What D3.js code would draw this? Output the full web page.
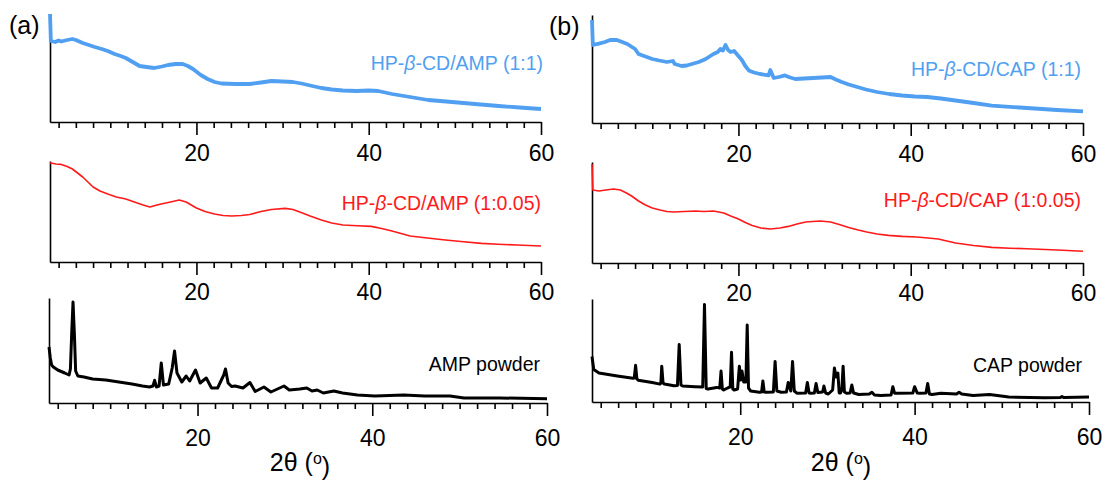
<!DOCTYPE html>
<html>
<head>
<meta charset="utf-8">
<script src="https://cdn.jsdelivr.net/npm/d3@7"></script>
<style>
  html, body { margin: 0; padding: 0; background: #fff; }
  #chart { width: 1105px; height: 483px; }
  text { font-family: 'Liberation Sans', Arial, sans-serif; }
  .axis path, .axis line { stroke: #000; stroke-width: 1.6; }
</style>
</head>
<body>
<div id="chart"></div>
<script>
'use strict';

// ---- data: [2theta (deg), intensity (a.u.)] ----
const ampComplex11 = [
  [3.0,108],[3.05,95],[3.1,81],[3.6,80],[4.0,81.5],[4.3,80.5],[5.0,82],[5.6,83],[6.0,82],
  [6.8,79],[7.5,77],[8.2,75],[9.0,73],[9.7,71],[10.5,68],[11.2,66],[11.8,64],[12.6,60],
  [13.4,56],[14.2,55],[15.1,54],[16.0,55.5],[16.7,57],[17.6,58],[18.4,58],[19.0,56],
  [19.6,53],[20.5,47],[21.3,43],[22.1,40],[22.9,38.5],[24.5,38],[26.2,38],[27.5,39.5],
  [28.7,41],[30.0,40.5],[31.2,40],[32.2,38.5],[33.2,36.5],[34.5,34],[35.7,32.5],[37.0,31.5],
  [38.6,31],[40.0,31.5],[41.1,31],[42.7,28],[44.8,25],[46.9,22],[49,20.5],[51,19],[53,17.5],
  [55.1,16],[57.5,14.5],[60,13]
];
const ampComplex005 = [
  [3.0,99],[3.1,99],[3.7,98],[4.3,97.6],[5.0,95.5],[5.6,93],[6.2,89],[6.8,85],[7.4,80],
  [8.0,75],[8.8,71],[9.7,68],[10.7,65],[11.8,63],[12.8,60],[13.8,57],[14.6,55],[15.2,56.5],
  [15.9,58],[17.0,60],[18.0,62],[18.8,60],[19.4,57],[20.0,54],[21.0,50.5],[22.1,48],
  [23.1,46.5],[24.1,46],[25.2,46.5],[26.2,47.5],[27.5,50.5],[28.7,52.5],[30.3,53.6],
  [31.2,52.5],[32.0,50],[33.2,46],[34.5,42],[35.7,39],[37.0,37],[38.7,36.2],[40.3,35.6],
  [41.5,33.5],[42.7,31],[44.8,26],[46.8,24],[48.9,22],[51.0,20.3],[53.1,18.6],[55.0,17.7],
  [57.2,17],[60,16]
];
const ampPowder = [
  [3.0,56],[3.15,45],[3.3,38],[3.5,36],[4.0,33],[4.8,30],[5.3,28],[5.45,34],[5.6,70],
  [5.75,101],[5.9,70],[6.05,32],[6.3,27],[7,26],[8,24],[9.5,23],[11,21],[12.5,19],
  [13.7,17],[14.5,16],[14.9,17],[15.09,22.7],[15.3,16],[15.6,17],[15.85,40],[16.1,18],
  [16.7,19],[17.1,35],[17.37,52],[17.65,30],[18.2,21],[18.7,27],[19.1,22],[19.77,33],
  [20.3,20],[21.0,25],[21.6,15],[22.3,15],[23.0,28],[23.2,34],[23.5,20],[23.9,16.5],
  [24.3,17],[25.2,15],[26.0,20.5],[26.6,11.5],[27.6,16],[28.4,11],[29.9,17],[30.5,13],
  [31.7,14],[32.5,15],[33.1,12],[33.7,13],[34.4,10],[35.6,12],[36.6,10],[38.3,8],
  [40.3,7],[43.6,8],[46.0,7],[48.9,7],[50.5,5],[54.6,5],[60,4.3]
];
const capComplex11 = [
  [3.0,103],[3.05,90],[3.1,78],[3.8,79.4],[4.5,81],[5.1,83],[5.9,83],[6.5,81],[7.1,79],
  [8.0,74],[8.4,69],[9.2,66.5],[10.0,64],[10.8,62.5],[11.7,61],[12.4,62],[12.6,59],
  [13.4,57],[14.0,57.5],[14.6,59],[15.4,61],[16.2,64],[17.1,69],[17.6,71],[17.9,74],
  [18.2,72.5],[18.5,78],[18.8,73],[19.1,71],[19.5,72],[19.8,69],[20.4,63],[20.8,57],
  [21.2,52.6],[21.8,50.5],[22.5,49],[23.5,47.6],[23.7,53],[24.1,45],[24.7,46],[25.4,47.6],
  [26.0,45.5],[26.6,44],[27.6,44.5],[28.7,45],[29.7,45.5],[30.7,46],[31.3,43.5],[32.0,41],
  [32.8,38.5],[33.6,36.5],[34.8,33.5],[36.1,31],[37.5,29],[39.0,27.5],[40.5,26.5],
  [41.9,26],[43.5,24.5],[45.2,22.5],[47.3,20],[49.4,17.4],[51.5,16.2],[53.5,15],[57,13],
  [60,11.7]
];
const capComplex005 = [
  [3.0,99],[3.05,85],[3.1,73],[3.8,72],[4.6,73],[5.5,74],[6.3,73],[7.0,70],[7.6,67],
  [8.4,62],[9.2,58],[10.0,55],[10.9,53],[11.7,51.5],[12.5,51],[13.7,51.5],[15.0,52],
  [16.0,51.5],[17.1,52],[18.3,50],[19.1,47],[20.0,44],[20.8,40.5],[21.6,37.6],[22.6,35],
  [23.7,34],[24.8,35],[25.8,36.6],[26.8,39],[27.8,41],[28.6,41.5],[29.5,42],[30.7,41],
  [31.7,38.5],[32.8,35.6],[33.9,33],[34.9,31],[36.1,29],[37.4,27.6],[39.0,26.6],
  [40.7,26],[42.0,25],[43.2,24],[44.2,22],[45.2,20],[47.3,17.5],[49.4,15.6],[51.5,14.8],
  [53.5,14.3],[57,13],[60,11.7]
];
const capPowder = [
  [3.0,45.5],[3.2,32.5],[3.8,29],[5.9,26],[7.7,23.7],[7.85,24],[8.0,36.7],[8.15,23],
  [8.3,21.8],[9.9,19.5],[10.8,17.9],[10.9,19],[11.0,35.8],[11.15,19],[11.3,18],
  [12.4,16.3],[12.8,16.5],[13.0,57.5],[13.2,17],[13.4,16],[14.8,15.3],[15.7,15],
  [15.9,97.5],[16.1,13.5],[16.3,13],[17.3,14.6],[17.65,14],[17.8,31],[17.95,13],
  [18.1,12],[18.7,14.6],[18.85,15],[19.0,49.7],[19.15,13],[19.3,12],[19.7,13],
  [19.9,35.8],[20.05,22],[20.2,31],[20.4,20],[20.65,20],[20.8,77],[20.95,14],[21.2,11],
  [22.2,9.75],[22.45,10],[22.6,21],[22.75,10],[23.0,9.75],[23.8,10],[24.0,40.6],[24.2,11],
  [24.7,9.75],[25.3,10],[25.5,19.5],[25.8,11],[26.0,40.6],[26.2,11],[26.5,8.8],[27.5,9],
  [27.7,19.5],[27.9,9],[28.1,8.8],[28.5,9],[28.7,18.5],[28.9,9.5],[29.2,9.75],[29.45,10],
  [29.6,16],[29.8,9],[30.1,8],[30.6,12],[30.8,34],[31.0,25],[31.2,29],[31.35,9],[31.5,9],
  [31.65,12],[31.8,35.8],[31.95,10],[32.2,8.8],[32.6,9],[32.8,17],[33.0,9],[33.6,7.5],
  [34.8,8],[35.1,9.75],[35.4,7],[36.1,6.5],[37.3,7],[37.5,15.3],[37.7,8.8],[38.1,8.8],
  [39.8,9],[40.0,15.3],[40.3,9],[40.6,8.8],[41.3,9],[41.5,18.5],[41.7,8],[42.0,7.5],
  [43.0,8.8],[44.8,8],[45.1,9.75],[45.4,8],[46.7,6.5],[48.6,7.5],[50.8,4.9],[54.9,4.2],
  [56.7,4.5],[56.9,5.5],[57.1,4.5],[60,4.9]
];

const X_DOMAIN = [3, 60];
const minorTicks = d3.range(4, 60, 2);
const majorTicks = [20, 40, 60];

const BLUE = '#519ff0';
const RED = '#ff1a1a';
const BLACK = '#000';

const panels = [
  { data: ampComplex11,  color: BLUE,  lw: 3.8, name: ['HP-', 'β', '-CD/AMP (1:1)'],
    x0: 50,  x1: 541,  top: 14,  base: 122, lx: 543,  ly: 63,  labY: 31 },
  { data: ampComplex005, color: RED,   lw: 1.6, name: ['HP-', 'β', '-CD/AMP (1:0.05)'],
    x0: 50,  x1: 541,  top: 161, base: 262, lx: 541,  ly: 203, labY: 30 },
  { data: ampPowder,     color: BLACK, lw: 3,   name: ['AMP powder'],
    x0: 49,  x1: 547,  top: 298, base: 403, lx: 540,  ly: 364, labY: 35 },
  { data: capComplex11,  color: BLUE,  lw: 3.8, name: ['HP-', 'β', '-CD/CAP (1:1)'],
    x0: 592, x1: 1083, top: 15,  base: 123, lx: 1081, ly: 69,  labY: 31 },
  { data: capComplex005, color: RED,   lw: 1.6, name: ['HP-', 'β', '-CD/CAP (1:0.05)'],
    x0: 592, x1: 1083, top: 162, base: 263, lx: 1081, ly: 200, labY: 30 },
  { data: capPowder,     color: BLACK, lw: 3,   name: ['CAP powder'],
    x0: 592, x1: 1089, top: 299, base: 402, lx: 1082, ly: 365, labY: 35 },
];

const svg = d3.select('#chart').append('svg')
  .attr('width', 1105)
  .attr('height', 483);

panels.forEach(p => {
  const x = d3.scaleLinear().domain(X_DOMAIN).range([p.x0, p.x1]);
  const y = d3.scaleLinear().domain([0, p.base - p.top]).range([p.base, p.top]);

  // x axis with minor/major ticks
  const ax = svg.append('g')
    .attr('class', 'axis')
    .attr('transform', `translate(0,${p.base})`)
    .call(d3.axisBottom(x)
      .tickValues(minorTicks.concat([60]))
      .tickSize(6)
      .tickSizeOuter(0)
      .tickFormat(d => majorTicks.includes(d) ? d : ''));
  ax.selectAll('.tick')
    .filter(d => majorTicks.includes(d))
    .select('line').attr('y2', 13);
  ax.selectAll('.tick text')
    .attr('y', p.labY)
    .attr('dy', '0.36em')
    .attr('fill', '#000')
    .style('font-size', '23px')
    .style('font-family', "'Liberation Sans', Arial, sans-serif");

  // y axis: plain line
  svg.append('g')
    .attr('class', 'axis')
    .attr('transform', `translate(${p.x0},0)`)
    .call(d3.axisLeft(y).tickValues([]).tickSizeOuter(0));

  const line = d3.line()
    .x(d => x(d[0]))
    .y(d => y(d[1]));

  svg.append('path')
    .datum(p.data)
    .attr('fill', 'none')
    .attr('stroke', p.color)
    .attr('stroke-width', p.lw)
    .attr('stroke-linejoin', 'round')
    .attr('d', line);

  const t = svg.append('text')
    .attr('x', p.lx)
    .attr('y', p.ly)
    .attr('dy', '0.36em')
    .attr('text-anchor', 'end')
    .attr('fill', p.color)
    .style('font-size', '19.5px');
  p.name.forEach(s => {
    t.append('tspan')
      .style('font-style', s === 'β' ? 'italic' : 'normal')
      .text(s);
  });
});

// panel letters
[['(a)', 9, 25], ['(b)', 549, 26]].forEach(([s, lx, ly]) => {
  svg.append('text')
    .attr('x', lx).attr('y', ly).attr('dy', '0.36em')
    .style('font-size', '25px')
    .text(s);
});

// x titles
[300, 841].forEach(cx => {
  const t = svg.append('text')
    .attr('x', cx).attr('y', 462).attr('dy', '0.36em')
    .attr('text-anchor', 'middle')
    .style('font-size', '25px');
  t.append('tspan').text('2θ (');
  t.append('tspan').attr('dy', '-0.45em').style('font-size', '16px').text('o');
  t.append('tspan').attr('dy', '0.45em').text(')');
});
</script>
</body>
</html>
